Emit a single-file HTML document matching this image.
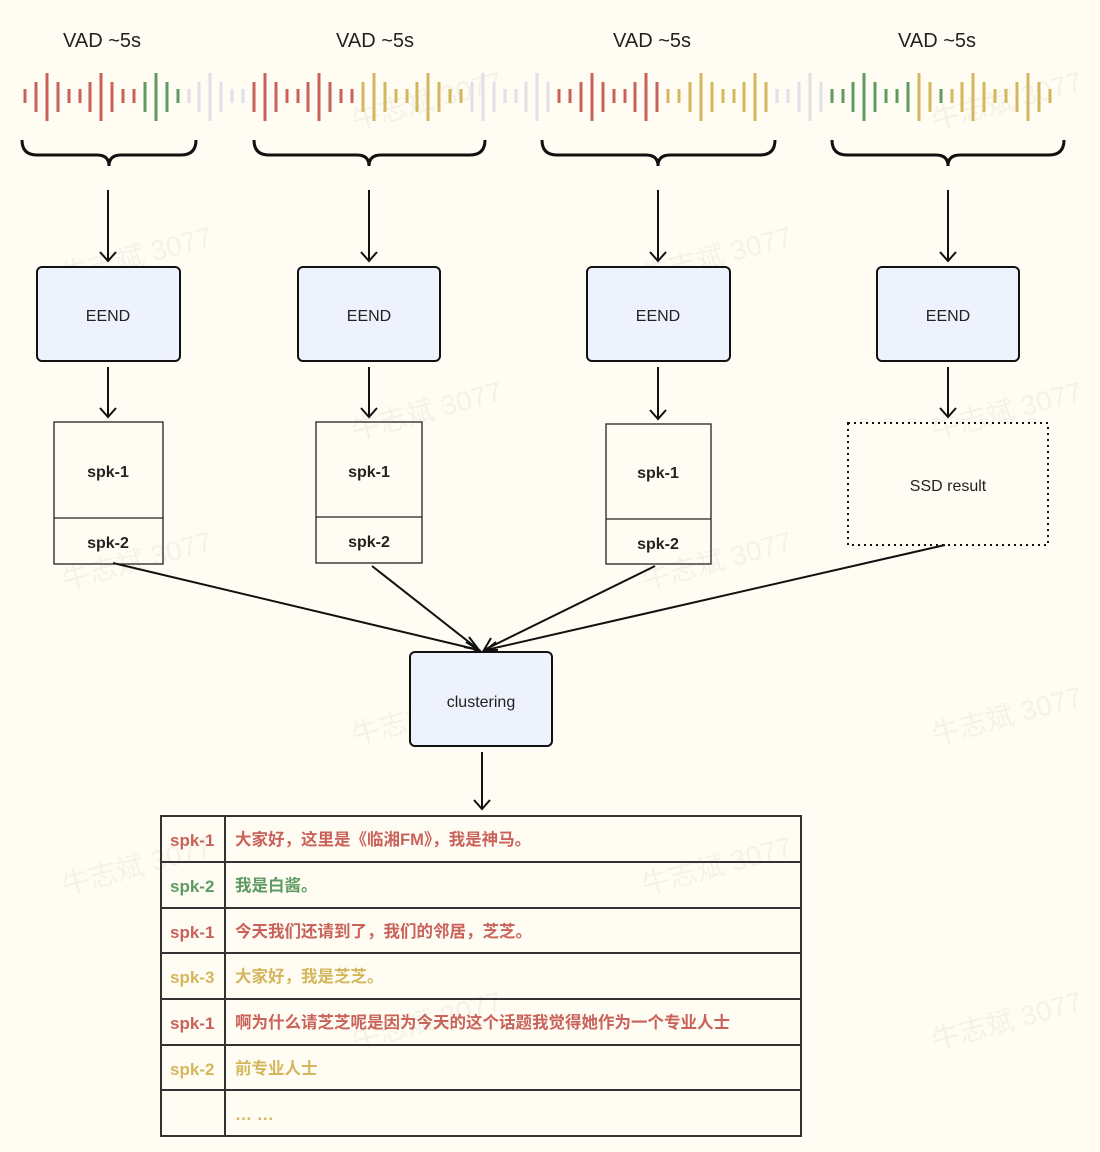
<!DOCTYPE html>
<html><head><meta charset="utf-8"><style>
html,body{margin:0;padding:0;background:#fffdf3;}
svg{display:block;}
text{font-family:"Liberation Sans","Noto Sans CJK SC",sans-serif;}
</style></head><body>
<svg width="1100" height="1152" viewBox="0 0 1100 1152" xmlns="http://www.w3.org/2000/svg">
<rect width="1100" height="1152" fill="#fffdf3"/>
<g fill="#000" fill-opacity="0.045" font-size="28" font-family="Liberation Sans,Noto Sans CJK SC,sans-serif">
<text transform="translate(355,130) rotate(-15)">牛志斌 3077</text>
<text transform="translate(935,130) rotate(-15)">牛志斌 3077</text>
<text transform="translate(65,285) rotate(-15)">牛志斌 3077</text>
<text transform="translate(645,285) rotate(-15)">牛志斌 3077</text>
<text transform="translate(355,440) rotate(-15)">牛志斌 3077</text>
<text transform="translate(935,440) rotate(-15)">牛志斌 3077</text>
<text transform="translate(65,590) rotate(-15)">牛志斌 3077</text>
<text transform="translate(645,590) rotate(-15)">牛志斌 3077</text>
<text transform="translate(355,745) rotate(-15)">牛志斌 3077</text>
<text transform="translate(935,745) rotate(-15)">牛志斌 3077</text>
<text transform="translate(65,895) rotate(-15)">牛志斌 3077</text>
<text transform="translate(645,895) rotate(-15)">牛志斌 3077</text>
<text transform="translate(355,1050) rotate(-15)">牛志斌 3077</text>
<text transform="translate(935,1050) rotate(-15)">牛志斌 3077</text>
</g>
<g font-size="20" fill="#222" text-anchor="middle">
<text x="102" y="47">VAD ~5s</text><text x="375" y="47">VAD ~5s</text>
<text x="652" y="47">VAD ~5s</text><text x="937" y="47">VAD ~5s</text>
</g>
<g stroke-width="3" fill="none">
<path stroke="#c9625a" d="M25 89v14M36 82v30M47 73v48M58 82v30M69 89v14M80 89v14M90 82v30M101 73v48M112 82v30M123 89v14M134 89v14M254 82v30M265 73v48M276 82v30M287 89v14M298 89v14M308 82v30M319 73v48M330 82v30M341 89v14M352 89v14M559 89v14M570 89v14M581 82v30M592 73v48M603 82v30M614 89v14M625 89v14M635 82v30M646 73v48M657 82v30"/>
<path stroke="#5e9a62" d="M145 82v30M156 73v48M167 82v30M178 89v14M832 89v14M843 89v14M853 82v30M864 73v48M875 82v30M886 89v14M897 89v14M908 82v30M941 89v14"/>
<path stroke="#e0e0e6" d="M189 89v14M199 82v30M210 73v48M221 82v30M232 89v14M243 89v14M472 82v30M483 73v48M494 82v30M505 89v14M516 89v14M526 82v30M537 73v48M548 82v30M777 89v14M788 89v14M799 82v30M810 73v48M821 82v30"/>
<path stroke="#d4b65e" d="M363 82v30M374 73v48M385 82v30M396 89v14M407 89v14M417 82v30M428 73v48M439 82v30M450 89v14M461 89v14M668 89v14M679 89v14M690 82v30M701 73v48M712 82v30M723 89v14M734 89v14M744 82v30M755 73v48M766 82v30M919 73v48M930 82v30M952 89v14M962 82v30M973 73v48M984 82v30M995 89v14M1006 89v14M1017 82v30M1028 73v48M1039 82v30M1050 89v14"/>
</g>
<g stroke="#111" stroke-width="3" fill="none">
<path d="M22 140q0 15 15 15H97q12 0 12 11q0-11 12-11H181q15 0 15-15"/>
<path d="M254 140q0 15 15 15H357q12 0 12 11q0-11 12-11H470q15 0 15-15"/>
<path d="M542 140q0 15 15 15H646q12 0 12 11q0-11 12-11H760q15 0 15-15"/>
<path d="M832 140q0 15 15 15H936q12 0 12 11q0-11 12-11H1049q15 0 15-15"/>
</g>
<g stroke="#111" stroke-width="2" fill="none">
<path d="M108 190V261M100 252l8 9 8-9"/><path d="M369 190V261M361 252l8 9 8-9"/>
<path d="M658 190V261M650 252l8 9 8-9"/><path d="M948 190V261M940 252l8 9 8-9"/>
<path d="M108 367V417M100 408l8 9 8-9"/><path d="M369 367V417M361 408l8 9 8-9"/>
<path d="M658 367V419M650 410l8 9 8-9"/><path d="M948 367V417M940 408l8 9 8-9"/>
<path d="M113 563L479 650M466 642l13 8-13 4"/>
<path d="M372 566L479 650M469 637l10 13-15-3"/>
<path d="M655 566L484 650M491 638l-7 12 14 0"/>
<path d="M945 545L486 650M496 642l-10 8 13 4"/>
<path d="M482 752V809M474 800l8 9 8-9"/>
</g>
<g fill="#eef2fc" stroke="#111" stroke-width="2">
<rect x="37" y="267" width="143" height="94" rx="5"/><rect x="298" y="267" width="142" height="94" rx="5"/>
<rect x="587" y="267" width="143" height="94" rx="5"/><rect x="877" y="267" width="142" height="94" rx="5"/>
<rect x="410" y="652" width="142" height="94" rx="5"/>
</g>
<g font-size="16" fill="#222" text-anchor="middle">
<text x="108" y="321">EEND</text><text x="369" y="321">EEND</text><text x="658" y="321">EEND</text><text x="948" y="321">EEND</text>
<text x="481" y="707">clustering</text><text x="948" y="491">SSD result</text>
</g>
<g fill="none" stroke="#222" stroke-width="1.3">
<rect x="54" y="422" width="109" height="142"/><path d="M54 518H163"/>
<rect x="316" y="422" width="106" height="141"/><path d="M316 517H422"/>
<rect x="606" y="424" width="105" height="140"/><path d="M606 519H711"/>
</g>
<rect x="848" y="423" width="200" height="122" fill="none" stroke="#111" stroke-width="2" stroke-dasharray="2 4"/>
<g font-size="16" font-weight="bold" fill="#222" text-anchor="middle">
<text x="108" y="477">spk-1</text><text x="108" y="548">spk-2</text>
<text x="369" y="477">spk-1</text><text x="369" y="547">spk-2</text>
<text x="658" y="478">spk-1</text><text x="658" y="549">spk-2</text>
</g>
<g fill="none" stroke="#333" stroke-width="2">
<rect x="161" y="816" width="640" height="320"/>
<path d="M225 816V1136M161 862H801M161 908H801M161 953H801M161 999H801M161 1045H801M161 1090H801"/>
</g>
<g font-size="17" font-weight="bold" font-family="Liberation Sans,Noto Sans CJK SC,sans-serif">
<text x="170" y="846" fill="#c9625a">spk-1</text><text x="235" y="845" fill="#c9625a" font-size="16.5">大家好，这里是《临湘FM》，我是神马。</text>
<text x="170" y="892" fill="#5e9a62">spk-2</text><text x="235" y="891" fill="#5e9a62" font-size="16.5">我是白酱。</text>
<text x="170" y="938" fill="#c9625a">spk-1</text><text x="235" y="937" fill="#c9625a" font-size="16.5">今天我们还请到了，我们的邻居，芝芝。</text>
<text x="170" y="983" fill="#d4b65e">spk-3</text><text x="235" y="982" fill="#d4b65e" font-size="16.5">大家好，我是芝芝。</text>
<text x="170" y="1029" fill="#c9625a">spk-1</text><text x="235" y="1028" fill="#c9625a" font-size="16.5">啊为什么请芝芝呢是因为今天的这个话题我觉得她作为一个专业人士</text>
<text x="170" y="1075" fill="#d4b65e">spk-2</text><text x="235" y="1074" fill="#d4b65e" font-size="16.5">前专业人士</text>
<text x="235" y="1120" fill="#d4b65e">… …</text>
</g>
</svg>
</body></html>
